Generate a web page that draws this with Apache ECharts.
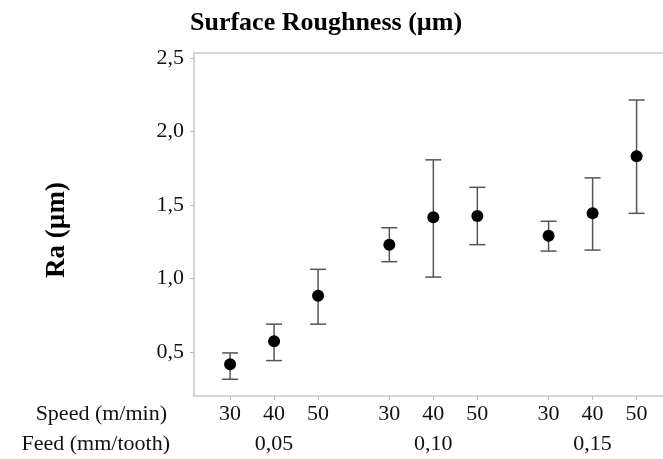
<!DOCTYPE html>
<html>
<head>
<meta charset="utf-8">
<script src="https://cdn.jsdelivr.net/npm/echarts@6/dist/echarts.min.js"></script>
<style>
  html, body { margin: 0; padding: 0; background: #fff; }
  #main { width: 663px; height: 459px; }
</style>
</head>
<body>
<div id="main"></div>
<script>
// feed groups and speeds inside each group
var feeds = ['0,05', '0,10', '0,15'];
var speeds = [30, 40, 50];

// Ra mean and interval ends, in order feed -> speed
var means = [0.416, 0.573, 0.882, 1.230, 1.416, 1.425, 1.291, 1.443, 1.832];
var upper = [0.493, 0.689, 1.062, 1.345, 1.807, 1.620, 1.389, 1.684, 2.214];
var lower = [0.314, 0.441, 0.689, 1.114, 1.009, 1.230, 1.186, 1.193, 1.443];

var yTicks = [0.5, 1.0, 1.5, 2.0, 2.5];

// x slot of each point: one unit per speed, extra space between feed groups
var GROUP_STEP = 3.62;
var xPos = [];
var speedAt = [];
var groupCenters = [];
feeds.forEach(function (f, g) {
  speeds.forEach(function (s, i) {
    xPos.push(g * GROUP_STEP + i);
    speedAt.push(s);
  });
  groupCenters.push(g * GROUP_STEP + 1);
});

function nearest(list, v) {
  var best = 0;
  for (var k = 1; k < list.length; k++) {
    if (Math.abs(list[k] - v) < Math.abs(list[best] - v)) best = k;
  }
  return best;
}

var serif = '"Liberation Serif", "DejaVu Serif", serif';
var frameColor = '#c9c9c9';
var X_MIN = -0.82, X_MAX = 9.84;
var frameLine = { show: true, onZero: false, lineStyle: { color: frameColor, width: 1.5 } };

var meanData = xPos.map(function (x, k) { return [x, means[k]]; });
var barData = xPos.map(function (x, k) { return [x, lower[k], upper[k]]; });

var myChart = echarts.init(document.getElementById('main'));

var option = {
  backgroundColor: '#fff',
  animation: false,
  grid: {
    left: 194,
    top: 53,
    right: 0,
    bottom: 63
  },
  xAxis: [{
    type: 'value',
    min: X_MIN,
    max: X_MAX,
    splitLine: { show: false },
    axisLine: frameLine,
    axisTick: {
      show: true,
      customValues: xPos,
      length: 4,
      lineStyle: { color: '#bbb' }
    },
    axisLabel: {
      customValues: xPos,
      margin: 7,
      color: '#111',
      fontFamily: serif,
      fontSize: 22,
      formatter: function (v) { return String(speedAt[nearest(xPos, v)]); }
    }
  }, {
    type: 'value',
    position: 'bottom',
    offset: 30,
    min: X_MIN,
    max: X_MAX,
    splitLine: { show: false },
    axisLine: { show: false, onZero: false },
    axisTick: { show: false },
    axisLabel: {
      customValues: groupCenters,
      margin: 7,
      color: '#111',
      fontFamily: serif,
      fontSize: 22,
      formatter: function (v) { return feeds[nearest(groupCenters, v)]; }
    }
  }, {
    // top edge of the frame only
    type: 'value',
    position: 'top',
    min: X_MIN,
    max: X_MAX,
    splitLine: { show: false },
    axisLine: frameLine,
    axisTick: { show: false },
    axisLabel: { show: false }
  }],
  yAxis: {
    type: 'value',
    min: 0.2,
    max: 2.534,
    splitLine: { show: false },
    axisLine: frameLine,
    axisTick: {
      show: true,
      customValues: yTicks,
      length: 4,
      lineStyle: { color: '#bbb' }
    },
    axisLabel: {
      customValues: yTicks,
      margin: 10,
      color: '#111',
      fontFamily: serif,
      fontSize: 22,
      formatter: function (v) { return v.toFixed(1).replace('.', ','); }
    }
  },
  graphic: [{
    type: 'text',
    left: 190,
    top: 10,
    style: {
      text: 'Surface Roughness (µm)',
      font: 'bold 26px ' + serif,
      fill: '#000'
    }
  }, {
    type: 'text',
    x: 57,
    y: 230,
    rotation: Math.PI / 2,
    style: {
      text: 'Ra (µm)',
      font: 'bold 27px ' + serif,
      fill: '#000',
      align: 'center',
      verticalAlign: 'middle'
    }
  }, {
    type: 'text',
    x: 167,
    y: 414,
    style: {
      text: 'Speed (m/min)',
      font: '22px ' + serif,
      fill: '#111',
      align: 'right',
      verticalAlign: 'middle'
    }
  }, {
    type: 'text',
    x: 170,
    y: 444,
    style: {
      text: 'Feed (mm/tooth)',
      font: '22px ' + serif,
      fill: '#111',
      align: 'right',
      verticalAlign: 'middle'
    }
  }],
  series: [{
    type: 'custom',
    name: 'interval',
    clip: false,
    data: barData,
    renderItem: function (params, api) {
      var top = api.coord([api.value(0), api.value(2)]);
      var bot = api.coord([api.value(0), api.value(1)]);
      var half = 8;
      var style = { stroke: '#555', lineWidth: 1.5 };
      return {
        type: 'group',
        children: [
          { type: 'line', shape: { x1: top[0], y1: top[1], x2: bot[0], y2: bot[1] }, style: style },
          { type: 'line', shape: { x1: top[0] - half, y1: top[1], x2: top[0] + half, y2: top[1] }, style: style },
          { type: 'line', shape: { x1: bot[0] - half, y1: bot[1], x2: bot[0] + half, y2: bot[1] }, style: style }
        ]
      };
    }
  }, {
    type: 'scatter',
    name: 'mean',
    data: meanData,
    symbol: 'circle',
    symbolSize: 12,
    z: 5,
    itemStyle: { color: '#000', opacity: 1 }
  }]
};

myChart.setOption(option);
</script>
</body>
</html>
